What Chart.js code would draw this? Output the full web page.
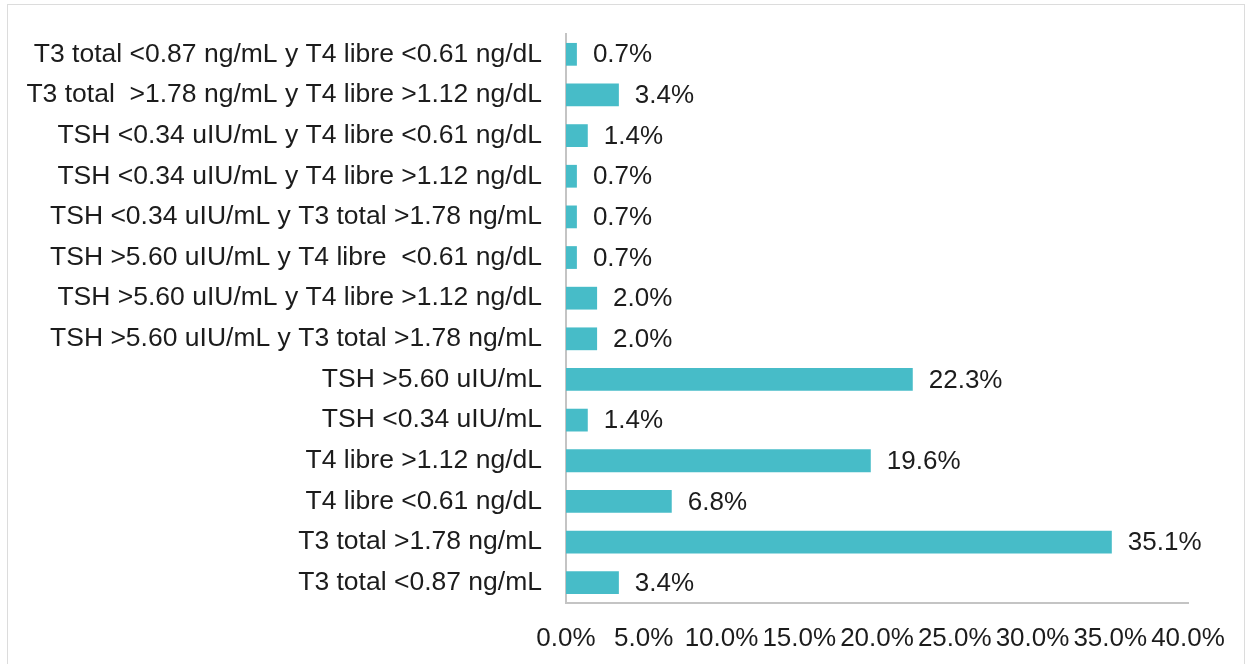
<!DOCTYPE html>
<html>
<head>
<meta charset="utf-8">
<script src="https://cdn.jsdelivr.net/npm/chart.js@4"></script>
<style>
    html, body { margin: 0; padding: 0; background: #fff; }
    #wrap { position: relative; width: 1252px; height: 664px; }
    #frame { position: absolute; left: 7px; top: 4px; width: 1238px; height: 670px; border: 1px solid #dcdcdc; box-sizing: border-box; }
    canvas { position: absolute; left: 0; top: 0; }
</style>
</head>
<body>
<div id="wrap">
    <div id="frame"></div>
    <canvas id="chart" width="1252" height="664"></canvas>
</div>
<script>
const categories = [
    'T3 total <0.87 ng/mL y T4 libre <0.61 ng/dL',
    'T3 total  >1.78 ng/mL y T4 libre >1.12 ng/dL',
    'TSH <0.34 uIU/mL y T4 libre <0.61 ng/dL',
    'TSH <0.34 uIU/mL y T4 libre >1.12 ng/dL',
    'TSH <0.34 uIU/mL y T3 total >1.78 ng/mL',
    'TSH >5.60 uIU/mL y T4 libre  <0.61 ng/dL',
    'TSH >5.60 uIU/mL y T4 libre >1.12 ng/dL',
    'TSH >5.60 uIU/mL y T3 total >1.78 ng/mL',
    'TSH >5.60 uIU/mL',
    'TSH <0.34 uIU/mL',
    'T4 libre >1.12 ng/dL',
    'T4 libre <0.61 ng/dL',
    'T3 total >1.78 ng/mL',
    'T3 total <0.87 ng/mL'
];
const percents = [0.7, 3.4, 1.4, 0.7, 0.7, 0.7, 2.0, 2.0, 22.3, 1.4, 19.6, 6.8, 35.1, 3.4];
const xTicks = [0, 5, 10, 15, 20, 25, 30, 35, 40];

const FONT = '"Liberation Sans", Arial, sans-serif';
const SIZE = 26;

// value labels to the right of each bar
const valueLabels = {
    id: 'valueLabels',
    afterDatasetsDraw(chart) {
        const ctx = chart.ctx;
        const meta = chart.getDatasetMeta(0);
        ctx.save();
        ctx.font = SIZE + 'px ' + FONT;
        ctx.fillStyle = '#1c1c1c';
        ctx.textBaseline = 'middle';
        ctx.textAlign = 'left';
        meta.data.forEach((bar, i) => {
            ctx.fillText(percents[i].toFixed(1) + '%', bar.x + 16, bar.y + 1);
        });
        ctx.restore();
    }
};

new Chart(document.getElementById('chart'), {
    type: 'bar',
    data: {
        labels: categories,
        datasets: [{
            data: percents,
            backgroundColor: '#47bcc8',
            barPercentage: 0.56,
            categoryPercentage: 1.0
        }]
    },
    options: {
        indexAxis: 'y',
        responsive: false,
        animation: false,
        layout: { padding: { top: 34, right: 64, bottom: 0, left: 0 } },
        plugins: { legend: { display: false }, tooltip: { enabled: false } },
        scales: {
            x: {
                min: 0,
                max: 40,
                afterBuildTicks(axis) { axis.ticks = xTicks.map(v => ({ value: v })); },
                afterFit(axis) { axis.height = 61; },
                grid: { display: false, drawTicks: false },
                border: { display: true, color: '#c4c4c4', width: 2 },
                ticks: {
                    padding: 20,
                    color: '#1c1c1c',
                    font: { family: FONT, size: SIZE },
                    maxRotation: 0,
                    autoSkip: false,
                    callback: v => v.toFixed(1) + '%'
                }
            },
            y: {
                afterFit(axis) {
                    axis.width = 566;
                    axis.paddingTop = 0;
                    axis.paddingBottom = 0;
                },
                grid: { display: false, drawTicks: false },
                border: { display: true, color: '#c4c4c4', width: 2 },
                ticks: {
                    padding: 24,
                    color: '#1c1c1c',
                    font: { family: FONT, size: 26.5 },
                    autoSkip: false
                }
            }
        }
    },
    plugins: [valueLabels]
});
</script>
</body>
</html>
